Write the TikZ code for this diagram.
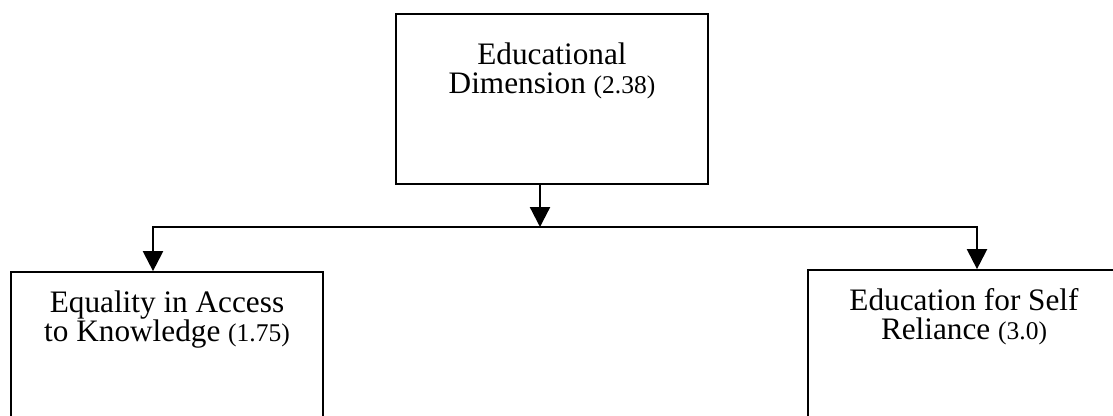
\documentclass[tikz,border=0pt]{standalone}
\usepackage{fontspec}
\setmainfont{Liberation Serif}
\usetikzlibrary{arrows.meta, positioning, calc}

\newcommand{\score}[1]{{\fontsize{10.2}{10}\selectfont #1}}

\begin{document}
\begin{tikzpicture}[
    x=0.4pt, y=-0.4pt,
    font=\fontsize{12.5}{11.8}\selectfont,
    box/.style={rectangle, draw, line width=0.9pt, minimum width=125pt, align=center, text height=19.8pt, inner xsep=2pt},
    topbox/.style={box, inner ysep=12pt, text depth=24.2pt},
    subbox/.style={box, inner ysep=8pt, text depth=31.2pt},
    arrow/.style={-{Triangle[length=8pt, width=8pt]}, line width=0.9pt}
]
    \useasboundingbox (0,0) rectangle (1113,415);
    \clip (0,0) rectangle (1113,415);

    % Nodes
    \node[topbox] (edu) at (552,99) {Educational\\Dimension \score{(2.38)}};
    \node[subbox] (equal) at (167,356) {Equality in Access\\to Knowledge \score{(1.75)}};
    \node[subbox] (self) at (964,354) {Education for Self\\Reliance \score{(3.0)}};

    % Branch point
    \coordinate (split) at (540,227);

    % Arrows
    \draw[arrow] (edu.south -| split) -- (split);
    \draw[arrow] (split) -| ($(equal.north)+(-14,0)$);
    \draw[arrow] (split) -| ($(self.north)+(13,0)$);
\end{tikzpicture}
\end{document}
